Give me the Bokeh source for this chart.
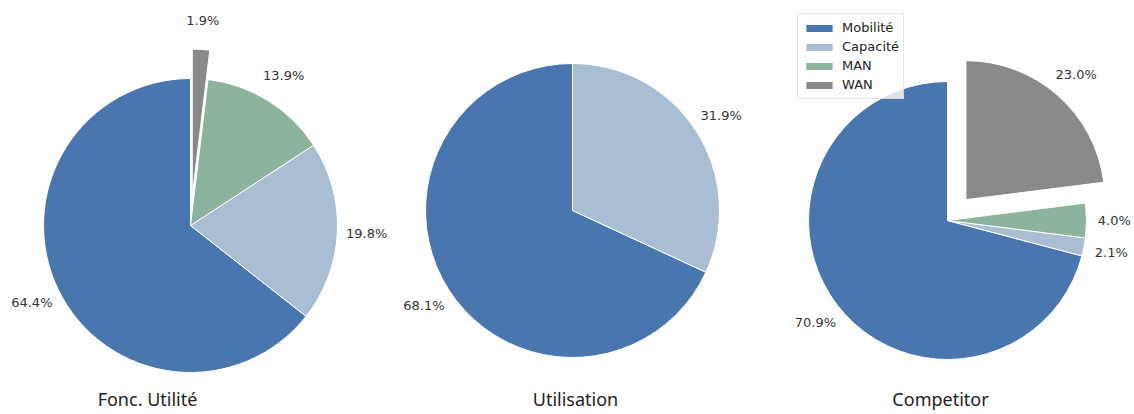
import numpy as np
from bokeh.plotting import figure
from bokeh.layouts import row
from bokeh.models import ColumnDataSource, Label
from bokeh.core.properties import value
from bokeh.embed import file_html
from bokeh.resources import INLINE

categories = ["Mobilité", "Capacité", "MAN", "WAN"]
colors = ["#4a76b0", "#a9bed2", "#8cb39b", "#898989"]
fonc_values = [64.4, 19.8, 13.9, 1.9]
util_values = [68.1, 31.9]
comp_values = [70.9, 2.1, 4.0, 23.0]
fonc_explode = [0, 0, 0, 0.2]
util_explode = [0, 0]
comp_explode = [0, 0, 0, 0.2]
titles = ["Fonc. Utilité", "Utilisation", "Competitor"]

H = 410


def make_pie(values, explode, W, cx, cy, r, title, title_x, legend=False):
    p = figure(width=W, height=H, x_range=(0, W), y_range=(0, H),
               x_axis_type=None, y_axis_type=None, toolbar_location=None,
               output_backend="svg", min_border=0, outline_line_color=None)
    p.grid.visible = False
    n = len(values)
    vals = np.array(values, dtype=float)
    frac = vals / vals.sum()
    ends = np.pi / 2 + 2 * np.pi * np.cumsum(frac)
    starts = ends - 2 * np.pi * frac
    mids = (starts + ends) / 2
    ex = np.array(explode, dtype=float)
    x = cx + ex * r * np.cos(mids)
    y = cy + ex * r * np.sin(mids)
    src = ColumnDataSource(dict(
        x=x, y=y, start=starts, end=ends, color=colors[:n], cat=categories[:n],
        lx=x + 1.2 * r * np.cos(mids), ly=y + 1.2 * r * np.sin(mids),
        lab=[f"{v:.1f}%" for v in values]))
    kw = dict(legend_field="cat") if legend else {}
    p.wedge(x="x", y="y", radius=r, start_angle="start", end_angle="end",
            fill_color="color", line_color="white", line_width=1, source=src, **kw)
    p.text(x="lx", y="ly", text="lab", source=src, text_align="center",
           text_baseline="middle", text_font=value("DejaVu Sans"),
           text_font_size="13px", text_color="#333333")
    p.add_layout(Label(x=title_x, y=0, x_units="screen", y_units="screen", text=title,
                       text_align="center", text_baseline="bottom",
                       text_font="Noto Sans", text_font_size="18px", text_color="#222222"))
    if legend:
        lg = p.legend[0]
        lg.location = (29, 311)
        lg.label_text_font = "DejaVu Sans"
        lg.label_text_font_size = "13px"
        lg.label_text_color = "#222222"
        lg.glyph_width = 34
        lg.glyph_height = 10
        lg.label_height = 19
        lg.spacing = 0
        lg.padding = 4
        lg.margin = 0
        lg.label_standoff = 6
        lg.border_line_color = "#cccccc"
        lg.background_fill_alpha = 0.8
    return p


p1 = make_pie(fonc_values, fonc_explode, 388, 190, 185, 147, titles[0], 147)
p2 = make_pie(util_values, util_explode, 380, 184, 200, 147, titles[1], 187)
p3 = make_pie(comp_values, comp_explode, 366, 179, 190, 139, titles[2], 172, legend=True)

p = row(p1, p2, p3)
open("out.html", "w").write(file_html(p, INLINE))
